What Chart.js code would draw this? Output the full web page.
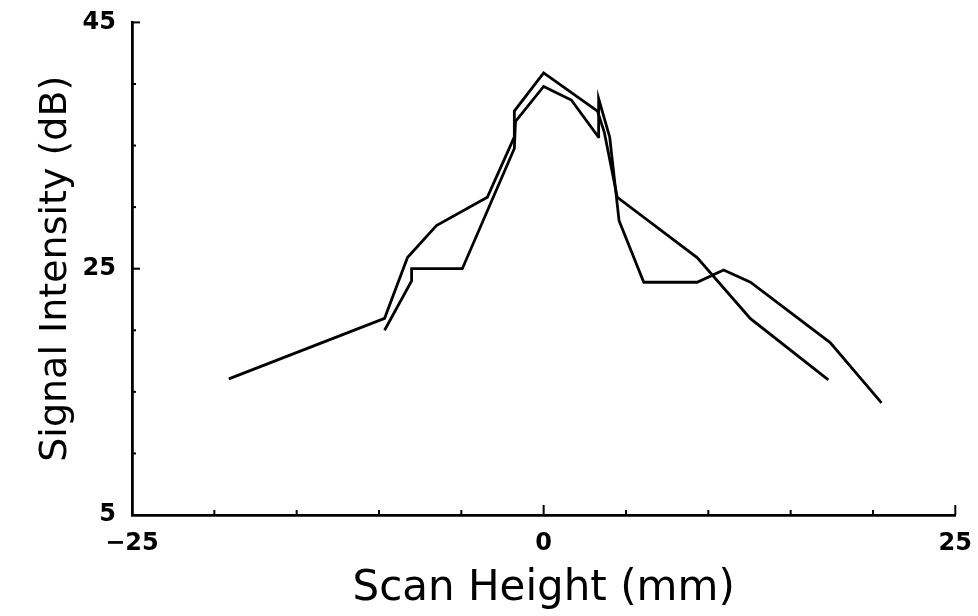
<!DOCTYPE html>
<html>
<head>
<meta charset="utf-8">
<script src="https://cdn.jsdelivr.net/npm/chart.js@4.4.1/dist/chart.umd.min.js"></script>
<style>
  html, body { margin: 0; padding: 0; background: #fff; }
  #wrap { width: 978px; height: 616px; }
</style>
</head>
<body>
<div id="wrap"><canvas id="myChart" width="978" height="616"></canvas></div>
<script>
// scan 1 (upper peak)
const scanAx = [-19.12, -9.66, -8.27, -6.51, -3.42, -1.78, -1.78, 0.0, 3.27, 3.68, 4.47, 9.32, 12.56, 17.29];
const scanAy = [16.05, 20.97, 25.9, 28.5, 30.8, 35.7, 37.8, 40.9, 37.8, 36.1, 30.8, 25.9, 20.94, 15.97];
// scan 2 (lower peak, with the spike)
const scanBx = [-9.66, -8.02, -8.02, -4.94, -1.78, -1.71, 0.0, 1.68, 3.32, 3.34, 4.01, 4.58, 6.08, 9.32, 10.93, 12.56, 17.40, 20.52];
const scanBy = [20.0, 24.0, 25.0, 25.0, 34.76, 36.96, 39.8, 38.7, 35.7, 38.8, 35.7, 28.9, 23.9, 23.9, 24.9, 23.9, 19.0, 14.1];

const xMajor = [-25, 0, 25];
const xMinor = [-20, -15, -10, -5, 5, 10, 15, 20];
const yMajor = [5, 25, 45];
const yMinor = [10, 15, 20, 30, 35, 40];

function pts(xs, ys) {
    return xs.map((x, i) => ({ x: x, y: ys[i] }));
}

// small inward tick marks, like the original plot
const inwardTicks = {
    id: "inwardTicks",
    afterDraw(chart) {
        const c = chart.ctx;
        const xs = chart.scales.x, ys = chart.scales.y;
        const area = chart.chartArea;
        c.save();
        c.strokeStyle = "#000";
        c.lineWidth = 2;
        xMajor.concat(xMinor).forEach(v => {
            const px = xs.getPixelForValue(v);
            const len = xMajor.includes(v) ? 10 : 5;
            c.beginPath();
            c.moveTo(px, area.bottom);
            c.lineTo(px, area.bottom - len);
            c.stroke();
        });
        yMajor.concat(yMinor).forEach(v => {
            const py = ys.getPixelForValue(v);
            const len = yMajor.includes(v) ? 8 : 4;
            c.beginPath();
            c.moveTo(area.left, py);
            c.lineTo(area.left + len, py);
            c.stroke();
        });
        c.restore();
    }
};

const ctx = document.getElementById("myChart").getContext("2d");

const lineStyle = {
    showLine: true,
    borderColor: "#000",
    borderWidth: 2.8,
    pointRadius: 0,
    fill: false,
    tension: 0,
};

const myChart = new Chart(ctx, {
    type: "scatter",
    data: {
        datasets: [
            Object.assign({ label: "scan 1", data: pts(scanAx, scanAy) }, lineStyle),
            Object.assign({ label: "scan 2", data: pts(scanBx, scanBy) }, lineStyle),
        ],
    },
    options: {
        responsive: false,
        animation: false,
        layout: { padding: { top: 15, right: 21, left: 0, bottom: 0 } },
        plugins: { legend: { display: false }, tooltip: { enabled: false } },
        scales: {
            x: {
                type: "linear",
                min: -25, max: 25,
                afterFit(s) { s.height = 101; },
                border: { display: true, color: "#000", width: 2.8 },
                grid: { display: false },
                ticks: {
                    stepSize: 25,
                    color: "#000",
                    padding: 6,
                    maxRotation: 0,
                    font: { family: "DejaVu Sans", weight: "bold", size: 24 },
                    callback: v => String(v).replace("-", "\u2212"),
                },
                title: {
                    display: true,
                    text: "Scan Height (mm)",
                    color: "#000",
                    font: { family: "DejaVu Sans", size: 42 },
                    padding: { top: 0, bottom: 2 },
                },
            },
            y: {
                min: 5, max: 45,
                afterFit(s) { s.width = 132; },
                border: { display: true, color: "#000", width: 2.8 },
                grid: { display: false },
                ticks: {
                    stepSize: 20,
                    color: "#000",
                    padding: 8,
                    font: { family: "DejaVu Sans", weight: "bold", size: 24 },
                },
                title: {
                    display: true,
                    text: "Signal Intensity (dB)",
                    color: "#000",
                    font: { family: "DejaVu Sans", size: 38 },
                    padding: { top: 33, bottom: 0 },
                },
            },
        },
    },
    plugins: [inwardTicks],
});
</script>
</body>
</html>
